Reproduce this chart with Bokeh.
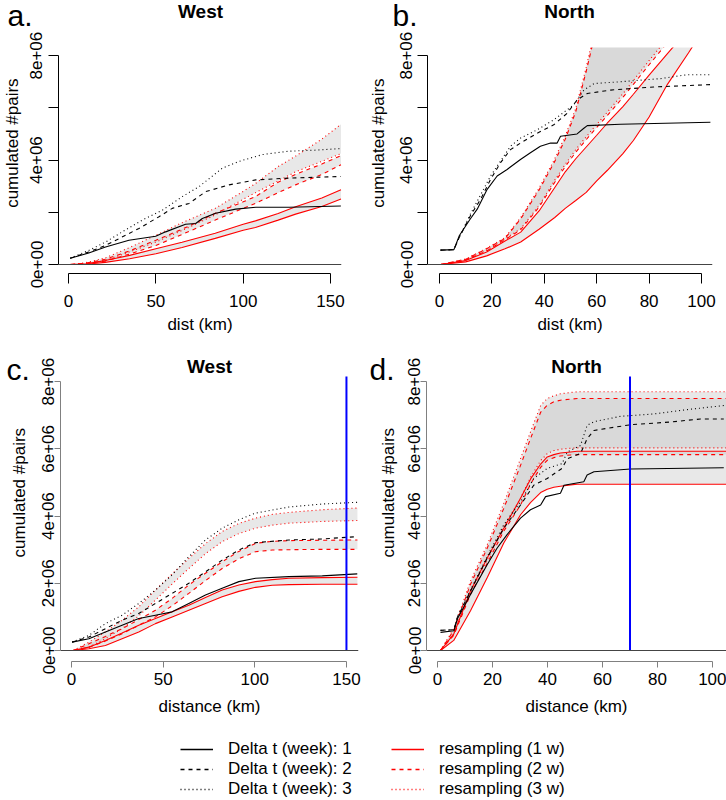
import math
from bokeh.plotting import figure
from bokeh.layouts import column, row
from bokeh.models import Span, FixedTicker, Legend, LegendItem, Range1d
from bokeh.core.properties import value
from bokeh.embed import file_html
from bokeh.resources import INLINE

FONT = "Liberation Sans"
M = 1e6  # values below are in millions of pairs
NAN = float("nan")

# ---------------- DATA ----------------
Y_TICKS = [0, 2000000, 4000000, 6000000, 8000000]
Y_LABELS_FULL = ["0e+00", "2e+06", "4e+06", "6e+06", "8e+06"]
Y_LABELS_TOP = ["0e+00", "", "4e+06", "", "8e+06"]
X_TICKS_WEST = [0, 50, 100, 150]
X_TICKS_NORTH = [0, 20, 40, 60, 80, 100]
CUTOFF_WEST = 150
CUTOFF_NORTH = 70
Y_TITLE = "cumulated #pairs"

LEGEND_OBS = ["Delta t (week): 1", "Delta t (week): 2", "Delta t (week): 3"]
LEGEND_RES = ["resampling (1 w)", "resampling (2 w)", "resampling (3 w)"]

# a. West
a_obs1_km = [1, 11.6, 21.2, 34.6, 49.9, 55.6, 67, 72.8, 76.6, 84.2, 95.7, 107.2, 126.3, 155.9]
a_obs1 = [0.24, 0.44, 0.67, 0.93, 1.08, 1.25, 1.54, 1.57, 1.76, 1.96, 2.12, 2.19, 2.19, 2.24]
a_obs2_km = [1, 11.6, 21.2, 40.3, 51.8, 59.4, 69, 78.5, 91.9, 107.2, 126.3, 155.9]
a_obs2 = [0.24, 0.48, 0.73, 1.38, 1.83, 2.15, 2.34, 2.79, 3.05, 3.24, 3.31, 3.37]
a_obs3_km = [1, 11.6, 21.2, 30.8, 42.2, 53.7, 65.1, 74.7, 88, 97.6, 111, 126.3, 141.5, 155.9]
a_obs3 = [0.24, 0.54, 0.86, 1.25, 1.70, 2.08, 2.60, 2.98, 3.69, 3.95, 4.21, 4.34, 4.38, 4.44]
a_res_km = [1, 10, 21, 35, 50, 65, 84, 100, 107, 120, 130, 145, 156]
a_res1_hi = [0, 0.03, 0.15, 0.35, 0.60, 0.85, 1.20, 1.54, 1.67, 1.95, 2.21, 2.55, 2.86]
a_res1_lo = [0, 0.01, 0.08, 0.22, 0.41, 0.65, 1.00, 1.31, 1.42, 1.70, 1.93, 2.22, 2.51]
a_res2_hi = [0, 0.05, 0.20, 0.52, 0.93, 1.35, 1.96, 2.40, 2.60, 3.15, 3.45, 3.85, 4.17]
a_res2_lo = [0, 0.03, 0.13, 0.40, 0.73, 1.15, 1.70, 2.15, 2.34, 2.75, 3.05, 3.45, 3.82]
a_res3_hi = [0, 0.07, 0.25, 0.65, 1.12, 1.60, 2.15, 2.80, 3.10, 3.75, 4.15, 4.80, 5.37]
a_res3_lo = [0, 0.04, 0.15, 0.48, 0.86, 1.30, 1.90, 2.50, 2.75, 3.20, 3.55, 3.95, 4.25]

# b. North
b_obs1_km = [0.4, 5.5, 7.6, 11.8, 14.4, 18.2, 22.0, 25.8, 30.9, 34.7, 38.5, 42.4, 44.9, 46.2, 52.5, 55.1, 56.4, 69.1, 103.4]
b_obs1 = [0.55, 0.57, 1.11, 1.75, 2.12, 2.88, 3.39, 3.64, 4.02, 4.28, 4.53, 4.65, 4.65, 4.91, 5.0, 5.22, 5.32, 5.37, 5.45]
b_obs2_km = [0.4, 5.5, 7.6, 11.8, 15.7, 19.5, 23.3, 27.1, 30.9, 37.3, 43.6, 48.7, 52.5, 56.4, 65.3, 81.8, 103.4]
b_obs2 = [0.55, 0.57, 1.05, 1.87, 2.5, 3.26, 3.9, 4.4, 4.65, 5.03, 5.35, 5.79, 6.3, 6.55, 6.68, 6.8, 6.89]
b_obs3_km = [0.4, 5.5, 7.6, 11.8, 19.5, 23.3, 27.1, 30.9, 37.3, 43.6, 51.2, 55.1, 59, 69.1, 84.4, 94.5, 103.4]
b_obs3 = [0.55, 0.57, 1.05, 1.93, 3.39, 3.96, 4.53, 4.84, 5.16, 5.54, 6.11, 6.68, 6.93, 7.0, 7.12, 7.27, 7.27]
b_res_km = [0.5, 10, 18, 25, 31, 38, 44, 48, 52, 56, 60, 64, 70, 74, 80, 87, 95, 104]
b_res1_hi = [0, 0.15, 0.48, 0.90, 1.24, 2.05, 2.95, 3.55, 4.05, 4.50, 4.95, 5.41, 6.05, 6.52, 7.25, 8.08, 9.00, 10.10]
b_res1_lo = [0, 0.10, 0.33, 0.60, 0.86, 1.35, 1.80, 2.15, 2.45, 2.76, 3.20, 3.60, 4.25, 4.75, 5.65, 6.90, 8.10, 9.50]
b_res2_hi = [0, 0.20, 0.60, 1.00, 1.75, 2.85, 3.95, 4.80, 5.85, 7.40, 9.10, 10.7, 12.5, 13.5, 15.0, 16.5, 18.0, 20.0]
b_res2_lo = [0, 0.17, 0.52, 0.95, 1.33, 2.20, 3.15, 3.75, 4.30, 4.78, 5.25, 5.70, 6.40, 6.90, 7.65, 8.50, 9.50, 10.6]
b_res3_hi = [0, 0.21, 0.62, 1.03, 1.80, 2.92, 4.05, 4.92, 5.98, 7.55, 9.30, 10.9, 12.7, 13.7, 15.2, 16.7, 18.2, 20.2]
b_res3_lo = [0, 0.18, 0.54, 0.98, 1.37, 2.26, 3.23, 3.84, 4.40, 4.89, 5.37, 5.83, 6.54, 7.05, 7.81, 8.67, 9.68, 10.8]

# c. West (with cut-off)
c_obs_km = [0.35, 9.5, 18.5, 27.6, 36.7, 45.8, 54.9, 64, 73.1, 82.2, 91.3, 100.4, 118.6, 136.8, 155.9]
c_obs1 = [0.25, 0.35, 0.55, 0.75, 0.95, 1.05, 1.15, 1.40, 1.65, 1.85, 2.05, 2.15, 2.2, 2.22, 2.28]
c_obs2 = [0.25, 0.4, 0.65, 0.9, 1.1, 1.4, 1.7, 2.0, 2.34, 2.69, 2.99, 3.21, 3.29, 3.32, 3.39]
c_obs3 = [0.25, 0.45, 0.8, 1.05, 1.4, 1.8, 2.25, 2.79, 3.29, 3.64, 3.89, 4.09, 4.27, 4.36, 4.41]
c_res_km = [1, 9.5, 18.5, 27.6, 36.7, 45.8, 54.9, 64, 73.1, 82.2, 91.3, 100.4, 109.5, 118.6, 136.8, 156]
c_res1_hi = [0, 0.1, 0.3, 0.52, 0.75, 0.95, 1.15, 1.35, 1.58, 1.8, 1.95, 2.05, 2.11, 2.15, 2.17, 2.18]
c_res1_lo = [0, 0.05, 0.15, 0.35, 0.55, 0.8, 1.0, 1.2, 1.4, 1.6, 1.76, 1.88, 1.94, 1.96, 1.97, 1.97]
c_res2_hi = [0, 0.2, 0.42, 0.65, 0.92, 1.2, 1.55, 1.95, 2.3, 2.64, 2.95, 3.19, 3.25, 3.27, 3.28, 3.29]
c_res2_lo = [0, 0.1, 0.28, 0.5, 0.75, 1.0, 1.33, 1.7, 2.08, 2.44, 2.73, 2.94, 2.99, 3.0, 3.01, 3.01]
c_res3_hi = [0, 0.25, 0.55, 0.9, 1.3, 1.8, 2.28, 2.74, 3.18, 3.54, 3.78, 3.94, 4.05, 4.11, 4.19, 4.24]
c_res3_lo = [0, 0.1, 0.35, 0.65, 1.03, 1.5, 1.98, 2.44, 2.88, 3.24, 3.48, 3.64, 3.73, 3.79, 3.84, 3.87]

# d. North (with cut-off)
d_obs1_km = [1.1, 6, 7.2, 12, 18.1, 21.7, 25.3, 30.2, 33.8, 37.5, 39.3, 44.7, 46, 53.2, 54.4, 56.9, 70.2, 104.1]
d_obs1 = [0.54, 0.59, 0.94, 1.67, 2.56, 3.05, 3.45, 3.94, 4.19, 4.33, 4.58, 4.68, 4.92, 5.02, 5.22, 5.32, 5.40, 5.44]
d_obs2_km = [1.1, 6, 7.2, 12, 18.1, 24.1, 30.2, 35, 39.9, 45.3, 47.2, 52, 54.4, 56.9, 70.2, 84.7, 95.6, 104.1]
d_obs2 = [0.6, 0.62, 0.98, 1.77, 2.76, 3.64, 4.33, 4.92, 5.12, 5.42, 5.71, 5.86, 6.30, 6.55, 6.72, 6.8, 6.89, 6.89]
d_obs3_km = [1.1, 6, 7.2, 12, 18.1, 24.1, 30.2, 35, 39.9, 45.3, 47.2, 52, 54.4, 56.9, 66.6, 78.7, 90.8, 104.1]
d_obs3 = [0.6, 0.62, 1.0, 1.8, 2.8, 3.74, 4.43, 5.12, 5.42, 5.56, 5.91, 6.1, 6.70, 6.81, 6.97, 7.04, 7.17, 7.29]
d_res_km = [1.1, 5.9, 12, 18.1, 24.1, 30.2, 33.8, 37.5, 39.9, 42.3, 44.7, 48.4, 50.8, 54.4, 70, 105]
d_res1_hi = [0, 0.49, 1.77, 2.76, 3.64, 4.53, 5.1, 5.55, 5.76, 5.83, 5.88, 5.91, 5.93, 5.93, 5.93, 5.93]
d_res1_lo = [0, 0.3, 1.18, 2.17, 3.2, 4.04, 4.4, 4.7, 4.8, 4.86, 4.89, 4.93, 4.95, 4.95, 4.95, 4.95]
d_res2_hi = [0, 0.6, 1.97, 3.05, 4.23, 5.51, 6.3, 7.09, 7.3, 7.4, 7.45, 7.48, 7.5, 7.5, 7.5, 7.5]
d_res2_lo = [0, 0.45, 1.67, 2.6, 3.55, 4.33, 4.95, 5.45, 5.66, 5.74, 5.79, 5.82, 5.83, 5.83, 5.83, 5.83]
d_res3_hi = [0, 0.65, 2.07, 3.15, 4.38, 5.71, 6.5, 7.29, 7.5, 7.58, 7.64, 7.68, 7.7, 7.7, 7.7, 7.7]
d_res3_lo = [0, 0.5, 1.77, 2.7, 3.69, 4.53, 5.15, 5.65, 5.86, 5.95, 5.99, 6.02, 6.03, 6.03, 6.03, 6.03]

# ---------------- STYLE ----------------
DASHES = ["solid", "4 4", "1 3"]
RED = "#ff0000"
BLACK = "#000000"
BAND = "#bebebe"


def blank_fig(x0, y0, w, h):
    """A figure without axes whose data units are page pixels (y negated)."""
    p = figure(width=w, height=h, x_range=Range1d(x0, x0 + w), y_range=Range1d(-(y0 + h), -y0),
               x_axis_type=None, y_axis_type=None, min_border=0,
               output_backend="svg", toolbar_location=None, title=None)
    p.outline_line_color = None
    p.xgrid.visible = False
    p.ygrid.visible = False
    return p


def put_text(p, x, y, txt, size, bold=False, align="center", baseline="middle", angle=0.0):
    p.text(x=[x], y=[y], text=[txt], text_font=value(FONT), text_font_size=value(size),
           text_font_style="bold" if bold else "normal", text_align=align,
           text_baseline=baseline, angle=angle, text_color="black")


def make_panel(fig_x, fig_y, w, h, frame, x0px, sx, y0px, sy):
    """frame = (left, right, top, bottom) in page pixels."""
    L, R, T, B = frame
    p = figure(width=w, height=h,
               x_range=Range1d((L - x0px) / sx, (R - x0px) / sx),
               y_range=Range1d((y0px - B) / sy * M, (y0px - T) / sy * M),
               min_border_left=L - fig_x, min_border_right=fig_x + w - R,
               min_border_top=T - fig_y, min_border_bottom=fig_y + h - B,
               output_backend="svg", toolbar_location=None, title=None)
    p.outline_line_color = None
    p.xgrid.visible = False
    p.ygrid.visible = False

    def to_data(px, py):
        return (px - x0px) / sx, (y0px - py) / sy * M
    return p, to_data


def style_axes(p, xticks, ylabels, xlabel, axis_col, tick_out, xstand, ystand, xlab_stand):
    xa = p.xaxis[0]
    ya = p.yaxis[0]
    for ax in (xa, ya):
        ax.axis_line_color = axis_col
        ax.major_tick_line_color = axis_col
        ax.major_tick_out = tick_out
        ax.major_tick_in = 0
        ax.minor_tick_line_color = None
        ax.major_label_text_font = FONT
        ax.major_label_text_font_size = "17px"
        ax.major_label_text_color = "black"
    xa.ticker = FixedTicker(ticks=xticks)
    xa.bounds = (xticks[0], xticks[-1])
    xa.major_label_overrides = {t: str(t) for t in xticks}
    xa.major_label_standoff = xstand
    xa.axis_label = xlabel
    xa.axis_label_text_font = FONT
    xa.axis_label_text_font_size = "17px"
    xa.axis_label_text_font_style = "normal"
    xa.axis_label_text_color = "black"
    xa.axis_label_standoff = xlab_stand
    ya.ticker = FixedTicker(ticks=Y_TICKS)
    ya.bounds = (Y_TICKS[0], Y_TICKS[-1])
    ya.major_label_overrides = {t: l for t, l in zip(Y_TICKS, ylabels)}
    ya.major_label_orientation = "vertical"
    ya.major_label_standoff = ystand


def draw(p, res_km, bands, obs, cutoff=None, cut_len=0):
    for lo, hi in bands:
        p.varea(x=res_km, y1=[v * M for v in lo], y2=[v * M for v in hi],
                fill_color=BAND, fill_alpha=0.35)
    for k, (lo, hi) in enumerate(bands):
        for s in (lo, hi):
            p.line(res_km, [v * M for v in s], line_color=RED, line_width=1.1,
                   line_dash=DASHES[k])
    for k, (km, vals) in enumerate(obs):
        p.line(km, [v * M for v in vals], line_color=BLACK, line_width=1.1,
               line_dash=DASHES[k])
    p.add_layout(Span(location=0, dimension="width", line_color="#444444", line_width=1))
    if cutoff is not None:
        p.ray(x=[cutoff], y=[0], length=cut_len, length_units="screen", angle=math.pi / 2,
              line_color="#0000ff", line_width=2)


# ================= ROW 1 =================
head1 = blank_fig(0, 0, 726, 30)
put_text(head1, 7, -14.5, "a.", "30px", align="left")
put_text(head1, 200, -11, "West", "19px", bold=True)
put_text(head1, 392, -14.5, "b.", "30px", align="left")
put_text(head1, 569, -11, "North", "19px", bold=True)

strip_a = blank_fig(0, 30, 22, 312)
put_text(strip_a, 11.5, -162, Y_TITLE, "17px", angle=math.pi / 2)
pa, _ = make_panel(22, 30, 341, 312, (58, 341, 47, 273), 68, 1.747, 264, 26.11)
draw(pa, a_res_km, [(a_res1_lo, a_res1_hi), (a_res2_lo, a_res2_hi), (a_res3_lo, a_res3_hi)],
     [(a_obs1_km, a_obs1), (a_obs2_km, a_obs2), (a_obs3_km, a_obs3)])
style_axes(pa, X_TICKS_WEST, Y_LABELS_TOP, "dist (km)", "black", 10, 11, 6, 5)

strip_b = blank_fig(363, 30, 26, 312)
put_text(strip_b, 378, -162, Y_TITLE, "17px", angle=math.pi / 2)
pb, _ = make_panel(389, 30, 337, 312, (427, 712, 47, 273), 439, 2.62, 264, 26.11)
draw(pb, b_res_km, [(b_res1_lo, b_res1_hi), (b_res2_lo, b_res2_hi), (b_res3_lo, b_res3_hi)],
     [(b_obs1_km, b_obs1), (b_obs2_km, b_obs2), (b_obs3_km, b_obs3)])
style_axes(pb, X_TICKS_NORTH, Y_LABELS_TOP, "dist (km)", "black", 10, 11, 5, 5)

# ================= ROW 2 =================
strip_c = blank_fig(0, 342, 34, 388)
put_text(strip_c, 6, -363, "c.", "30px", align="left")
put_text(strip_c, 19, -518, Y_TITLE, "17px", angle=math.pi / 2)
pc, c_data = make_panel(34, 342, 329, 388, (60, 358, 352, 661), 71, 1.833, 650, 33.6)
draw(pc, c_res_km, [(c_res1_lo, c_res1_hi), (c_res2_lo, c_res2_hi), (c_res3_lo, c_res3_hi)],
     [(c_obs_km, c_obs1), (c_obs_km, c_obs2), (c_obs_km, c_obs3)],
     cutoff=CUTOFF_WEST, cut_len=274)
style_axes(pc, X_TICKS_WEST, Y_LABELS_FULL, "distance (km)", "#808080", 6, 5, 0, 9)
tx, ty = c_data(209, 366)
put_text(pc, tx, ty, "West", "19px", bold=True)

strip_d = blank_fig(363, 342, 37, 388)
put_text(strip_d, 369, -363, "d.", "30px", align="left")
put_text(strip_d, 388, -518, Y_TITLE, "17px", angle=math.pi / 2)
pd_, d_data = make_panel(400, 342, 326, 388, (426, 726, 352, 661), 437, 2.75, 650, 33.6)
draw(pd_, d_res_km, [(d_res1_lo, d_res1_hi), (d_res2_lo, d_res2_hi), (d_res3_lo, d_res3_hi)],
     [(d_obs1_km, d_obs1), (d_obs2_km, d_obs2), (d_obs3_km, d_obs3)],
     cutoff=CUTOFF_NORTH, cut_len=274)
style_axes(pd_, X_TICKS_NORTH, Y_LABELS_FULL, "distance (km)", "#808080", 6, 5, 0, 9)
tx, ty = d_data(576, 366)
put_text(pd_, tx, ty, "North", "19px", bold=True)

# ================= LEGEND =================
pl = blank_fig(0, 730, 726, 70)


def legend_block(labels, color, xpos):
    items = []
    for k, lab in enumerate(labels):
        r = pl.line(x=[NAN], y=[NAN], line_color=color, line_width=1.3, line_dash=DASHES[k])
        items.append(LegendItem(label=lab, renderers=[r]))
    leg = Legend(items=items, location=(xpos, 1), glyph_width=33, glyph_height=20,
                 label_height=20, label_standoff=15, spacing=0, padding=0, margin=0,
                 border_line_color=None, background_fill_alpha=0,
                 label_text_font=FONT, label_text_font_size="17px",
                 label_text_color="black")
    pl.add_layout(leg)


legend_block(LEGEND_OBS, BLACK, 180)
legend_block(LEGEND_RES, RED, 391)

layout = column(head1,
                row(strip_a, pa, strip_b, pb),
                row(strip_c, pc, strip_d, pd_),
                pl)
open("out.html", "w").write(file_html(layout, INLINE))
